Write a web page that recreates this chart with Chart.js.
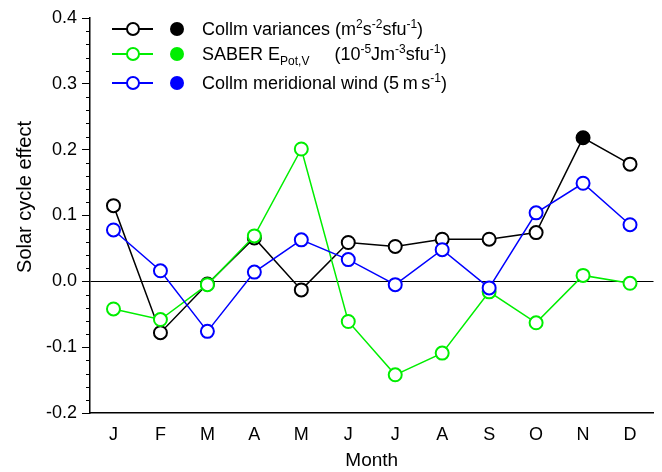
<!DOCTYPE html>
<html>
<head>
<meta charset="utf-8">
<script src="https://cdn.jsdelivr.net/npm/chart.js@4.4.0/dist/chart.umd.min.js"></script>
<style>
  body { margin: 0; background: #fff; }
  #wrap { position: relative; width: 662px; height: 472px; font-family: "Liberation Sans", Arial, sans-serif; }
  #legend { position: absolute; left: 112px; top: 0; font-size: 18px; color: #000; }
  .row { position: absolute; left: 0; height: 24px; line-height: 24px; white-space: nowrap; }
  .ln { position: absolute; left: 0; top: 11px; width: 41px; height: 0; border-top: 2px solid; }
  .oc { position: absolute; left: 14px; top: 5px; width: 10px; height: 10px; border: 2px solid; border-radius: 50%; background: #fff; }
  .fd { position: absolute; left: 58px; top: 5px; width: 14px; height: 14px; border-radius: 50%; }
  .tx { position: absolute; left: 90px; top: 0; }
  sup, sub { font-size: 12px; line-height: 0; }
</style>
</head>
<body>
<div id="wrap">
  <canvas id="chart" width="662" height="472"></canvas>
  <div id="legend">
    <div class="row" style="top:17px">
      <div class="ln" style="border-color:#000"></div><div class="oc" style="border-color:#000"></div>
      <div class="fd" style="background:#000"></div>
      <div class="tx">Collm variances (m<sup>2</sup>s<sup>-2</sup>sfu<sup>-1</sup>)</div>
    </div>
    <div class="row" style="top:42px">
      <div class="ln" style="border-color:#00ee00"></div><div class="oc" style="border-color:#00ee00"></div>
      <div class="fd" style="background:#00ee00"></div>
      <div class="tx">SABER E<sub>Pot,V</sub>&nbsp;&nbsp;&nbsp;&nbsp; (10<sup>-5</sup>Jm<sup>-3</sup>sfu<sup>-1</sup>)</div>
    </div>
    <div class="row" style="top:71px">
      <div class="ln" style="border-color:#0000ff"></div><div class="oc" style="border-color:#0000ff"></div>
      <div class="fd" style="background:#0000ff"></div>
      <div class="tx">Collm meridional wind (5&#8201;m&#8201;s<sup>-1</sup>)</div>
    </div>
  </div>
</div>
<script>
// data
const months = ['J', 'F', 'M', 'A', 'M', 'J', 'J', 'A', 'S', 'O', 'N', 'D'];
const collmVariances = [0.115, -0.078, -0.004, 0.066, -0.013, 0.059, 0.053, 0.064, 0.064, 0.074, 0.218, 0.178];
const saberEpot = [-0.042, -0.058, -0.005, 0.069, 0.201, -0.061, -0.142, -0.109, -0.016, -0.063, 0.009, -0.003];
const collmWind = [0.078, 0.016, -0.076, 0.014, 0.063, 0.033, -0.005, 0.048, -0.010, 0.104, 0.149, 0.086];
// significant months (filled symbols)
const varSignificant = [false, false, false, false, false, false, false, false, false, false, true, false];

const green = '#00ee00';
const fontFamily = '"Liberation Sans", Arial, sans-serif';

// minor ticks on y axis every 0.02, and the y title (sits a bit above the axis centre)
const extras = {
    id: 'extras',
    afterDraw(chart) {
        const y = chart.scales.y;
        const ctx = chart.ctx;
        const left = chart.chartArea.left;
        ctx.save();
        ctx.strokeStyle = '#000';
        ctx.lineWidth = 1;
        for (let i = -10; i <= 20; i++) {
            if (i % 5 === 0) continue;
            const py = Math.round(y.getPixelForValue(i * 0.02)) + 0.5;
            ctx.beginPath();
            ctx.moveTo(left - 4, py);
            ctx.lineTo(left, py);
            ctx.stroke();
        }
        ctx.translate(25, 197);
        ctx.rotate(-Math.PI / 2);
        ctx.fillStyle = '#000';
        ctx.font = '20px ' + fontFamily;
        ctx.textAlign = 'center';
        ctx.textBaseline = 'middle';
        ctx.fillText('Solar cycle effect', 0, 0);
        ctx.restore();
    }
};

function ds(label, data, color, order, filled) {
    return {
        label: label,
        data: data,
        borderColor: color,
        borderWidth: 1.5,
        pointBorderColor: color,
        pointBackgroundColor: data.map((v, i) => (filled && filled[i]) ? color : '#fff'),
        pointBorderWidth: 2,
        pointRadius: 6.5,
        tension: 0,
        order: order
    };
}

Chart.defaults.font.family = fontFamily;
Chart.defaults.color = '#000';

new Chart(document.getElementById('chart').getContext('2d'), {
    type: 'line',
    data: {
        labels: months,
        datasets: [
            ds('Collm variances', collmVariances, '#000', 3, varSignificant),
            ds('SABER EPot,V', saberEpot, green, 2),
            ds('Collm meridional wind', collmWind, '#0000ff', 1)
        ]
    },
    options: {
        responsive: false,
        animation: false,
        layout: { padding: { top: 18, right: 4, left: 0, bottom: 0 } },
        plugins: { legend: { display: false }, tooltip: { enabled: false } },
        scales: {
            x: {
                offset: true,
                grid: { display: false, drawTicks: true, tickLength: 7, tickColor: '#000' },
                border: { color: '#000', width: 1.5 },
                ticks: { font: { size: 18 }, padding: 4, maxRotation: 0, autoSkip: false },
                title: { display: true, text: 'Month', font: { size: 19 }, padding: 0 },
                afterFit: s => { s.height = 59; }
            },
            y: {
                min: -0.2,
                max: 0.4,
                ticks: {
                    stepSize: 0.1,
                    font: { size: 18 },
                    padding: 5,
                    callback: v => v.toFixed(1)
                },
                grid: {
                    tickLength: 8,
                    tickColor: '#000',
                    color: c => (Math.abs(c.tick.value) < 1e-9 ? '#000' : 'rgba(0,0,0,0)'),
                    lineWidth: 1
                },
                border: { color: '#000', width: 1.5 },
                title: { display: false },
                afterFit: s => { s.width = 90; }
            }
        }
    },
    plugins: [extras]
});
</script>
</body>
</html>
